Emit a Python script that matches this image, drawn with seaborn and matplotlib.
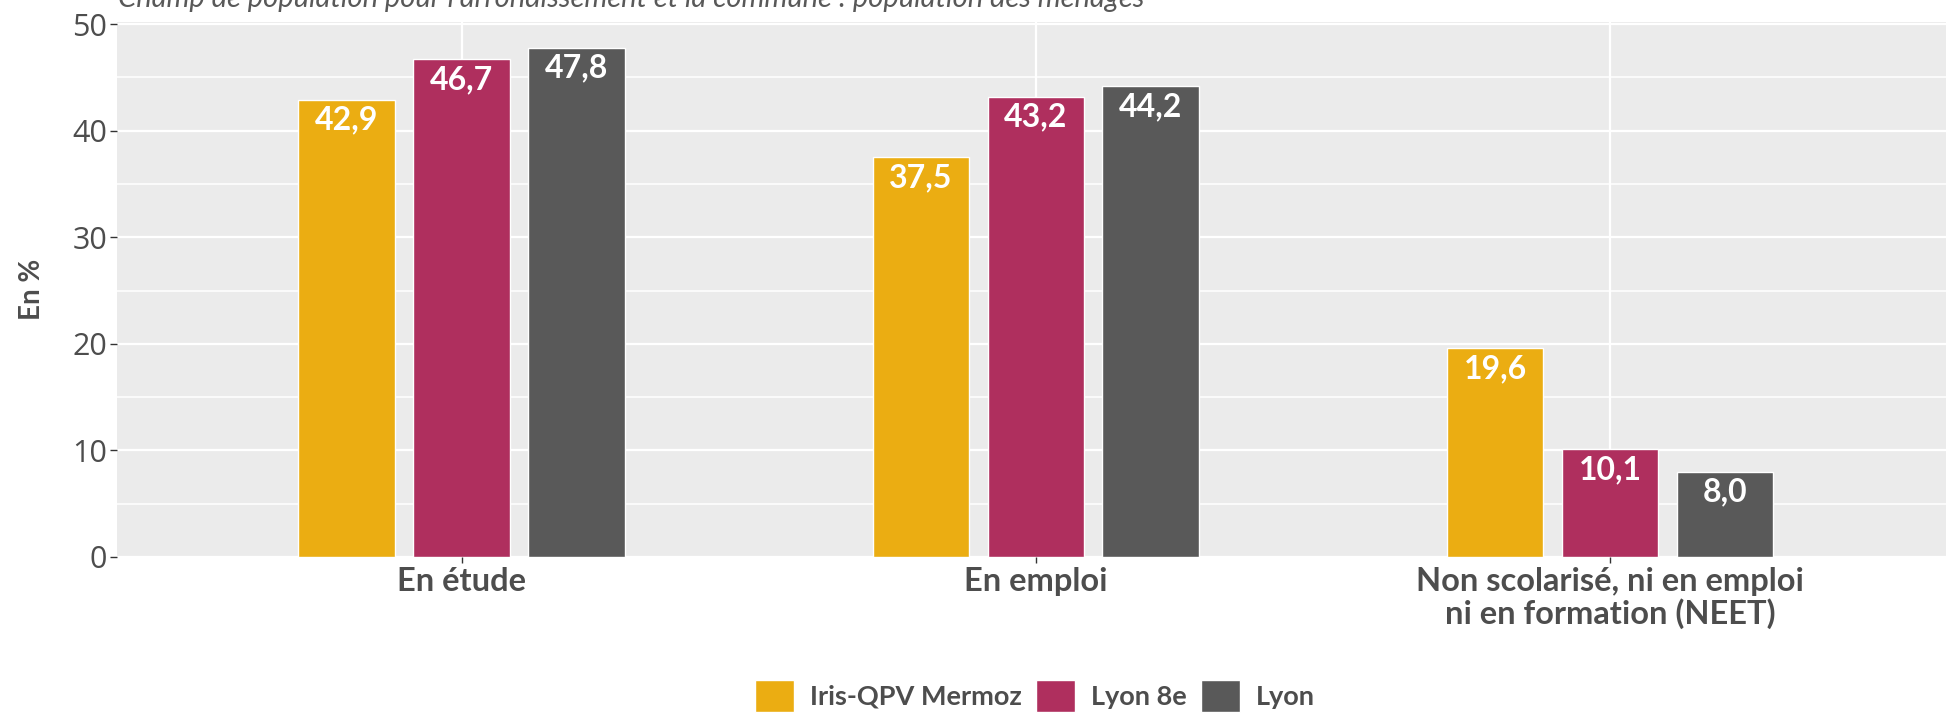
import numpy as np
import pandas as pd
import matplotlib
matplotlib.use("Agg")
import matplotlib.pyplot as plt
import seaborn as sns
from matplotlib.ticker import MultipleLocator

# data
categories = ["En étude", "En emploi", "Non scolarisé, ni en emploi\nni en formation (NEET)"]
groups = ["Iris-QPV Mermoz", "Lyon 8e", "Lyon"]
iris_values = [42.9, 37.5, 19.6]
lyon8_values = [46.7, 43.2, 10.1]
lyon_values = [47.8, 44.2, 8.0]
colors = ["#EBAD12", "#AF2F5E", "#595959"]

subtitle = "Champ de population pour l'arrondissement et la commune : population des ménages"

df = pd.DataFrame({
    "categorie": categories * 3,
    "territoire": [g for g in groups for _ in categories],
    "valeur": iris_values + lyon8_values + lyon_values,
})

sns.set_theme(style="darkgrid")
plt.rcParams["font.family"] = ["Lato", "DejaVu Sans"]

fig = plt.figure(figsize=(19.46, 7.14), dpi=100)
ax = fig.add_axes([117 / 1946, 1 - 557 / 714, 1 - 117 / 1946, (557 - 22) / 714])
ax.set_facecolor("#EBEBEB")

sns.barplot(data=df, x="categorie", y="valeur", hue="territoire",
            order=categories, hue_order=groups, palette=colors,
            width=0.6, gap=0.16, saturation=1, ax=ax)

ax.set_xlim(-0.6, 2.585)
ax.set_ylim(0, 50.2)
ax.yaxis.set_major_locator(MultipleLocator(10))
ax.yaxis.set_minor_locator(MultipleLocator(5))
ax.grid(which="major", color="white", linewidth=1.6)
ax.grid(which="minor", axis="y", color="white", linewidth=1.1)
ax.set_axisbelow(True)
for s in ax.spines.values():
    s.set_visible(False)

ax.tick_params(axis="y", which="major", left=True, length=5, width=1, color="#333333",
               pad=2, labelsize=22, labelcolor="#4D4D4D")
ax.tick_params(axis="y", which="minor", left=False)
ax.tick_params(axis="x", bottom=True, length=4, width=1, color="#333333", pad=3)
for lab in ax.get_yticklabels():
    lab.set_fontfamily(["Open Sans", "DejaVu Sans"])
ax.set_xticks(range(len(categories)))
ax.set_xticklabels(categories, fontsize=23.5, fontweight="bold", color="#4D4D4D",
                   linespacing=1.1)

ax.set_xlabel("")
ax.set_ylabel("En %", fontsize=20, fontweight="bold", color="#4D4D4D", labelpad=20)

# value labels inside the top of each bar
for cont in ax.containers:
    for bar in cont:
        h = bar.get_height()
        ax.annotate(f"{h:.1f}".replace(".", ","),
                    (bar.get_x() + bar.get_width() / 2, h),
                    xytext=(0, -6), textcoords="offset pixels",
                    ha="center", va="top", color="white",
                    fontsize=23, fontweight="bold")

handles, labels = ax.get_legend_handles_labels()
ax.get_legend().remove()
fig.legend(handles, labels, loc="center", bbox_to_anchor=(1035 / 1946, 1 - 696 / 714),
           ncol=3, frameon=False, handlelength=1.45, handleheight=1.45,
           handletextpad=0.6, columnspacing=0.5,
           prop={"weight": "bold", "size": 19.5})
for t in fig.legends[0].get_texts():
    t.set_color("#4D4D4D")

fig.text(118 / 1946, 1 - 7 / 714, subtitle, ha="left", va="baseline",
         fontsize=21, style="italic", color="#595959")

fig.savefig("out.png", dpi=100)
